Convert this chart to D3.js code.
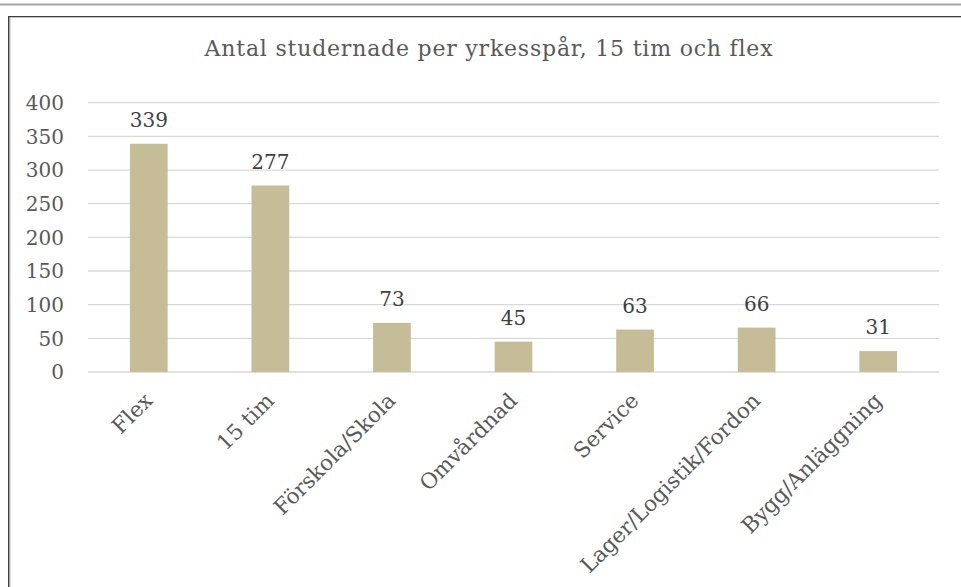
<!DOCTYPE html>
<html>
<head>
<meta charset="utf-8">
<script src="https://cdn.jsdelivr.net/npm/d3@7"></script>
<style>
  html, body { margin: 0; padding: 0; background: #fff; }
  svg { display: block; font-family: 'DejaVu Serif', serif; }
</style>
</head>
<body>
<div id="chart"></div>
<script>
// data
const title = 'Antal studernade per yrkesspår, 15 tim och flex'
const categories = ['Flex', '15 tim', 'Förskola/Skola', 'Omvårdnad', 'Service', 'Lager/Logistik/Fordon', 'Bygg/Anläggning']
const values = [339, 277, 73, 45, 63, 66, 31]
const yTicks = [0, 50, 100, 150, 200, 250, 300, 350, 400]

const width = 961
const height = 587
const margin = { top: 103, right: 22, bottom: 215, left: 88 }

const svg = d3.select('#chart')
  .append('svg')
  .attr('width', width)
  .attr('height', height)

// frame lines
svg.append('rect').attr('x', 0).attr('y', 3.5).attr('width', width).attr('height', 2).attr('fill', '#a6a6a6')
svg.append('rect').attr('x', 8).attr('y', 16).attr('width', width - 8).attr('height', 1.3).attr('fill', '#3f3f3f')
svg.append('rect').attr('x', 8).attr('y', 16).attr('width', 1.3).attr('height', height - 16).attr('fill', '#3f3f3f')
svg.append('rect').attr('x', 9.3).attr('y', 17).attr('width', 1).attr('height', height - 17).attr('fill', '#9a9a9a')

const x = d3.scaleBand()
  .domain(categories)
  .range([margin.left, width - margin.right])
  .paddingInner(0.69)
  .paddingOuter(0.345)

const y = d3.scaleLinear()
  .domain([0, 400])
  .range([height - margin.bottom, margin.top - 0.3])

// gridlines
svg.append('g')
  .selectAll('line')
  .data(yTicks)
  .join('line')
  .attr('x1', margin.left)
  .attr('x2', width - margin.right)
  .attr('y1', d => y(d))
  .attr('y2', d => y(d))
  .attr('stroke', '#d9d9d9')
  .attr('stroke-width', 1.3)

// y axis labels
svg.append('g')
  .selectAll('text')
  .data(yTicks)
  .join('text')
  .attr('x', 64)
  .attr('y', d => y(d))
  .attr('dy', '0.36em')
  .attr('text-anchor', 'end')
  .attr('fill', '#595959')
  .attr('font-size', 20)
  .text(d => d)

// bars
svg.append('g')
  .selectAll('rect')
  .data(values)
  .join('rect')
  .attr('x', (d, i) => x(categories[i]))
  .attr('width', x.bandwidth())
  .attr('y', d => y(d))
  .attr('height', d => y(0) - y(d))
  .attr('fill', '#c4bd97')

// value labels
svg.append('g')
  .selectAll('text')
  .data(values)
  .join('text')
  .attr('x', (d, i) => x(categories[i]) + x.bandwidth() / 2)
  .attr('y', d => y(d) - 17)
  .attr('text-anchor', 'middle')
  .attr('fill', '#404040')
  .attr('font-size', 20)
  .text(d => d)

// category labels
svg.append('g')
  .selectAll('text')
  .data(categories)
  .join('text')
  .attr('transform', d => `translate(${x(d) + x.bandwidth() / 2 + 5},${y(0) + 30}) rotate(-45)`)
  .attr('text-anchor', 'end')
  .attr('fill', '#595959')
  .attr('font-size', 21.5)
  .text(d => d)

// title
svg.append('text')
  .attr('x', 489)
  .attr('y', 56)
  .attr('text-anchor', 'middle')
  .attr('fill', '#595959')
  .attr('font-size', 22)
  .attr('letter-spacing', 0.8)
  .text(title)
</script>
</body>
</html>
